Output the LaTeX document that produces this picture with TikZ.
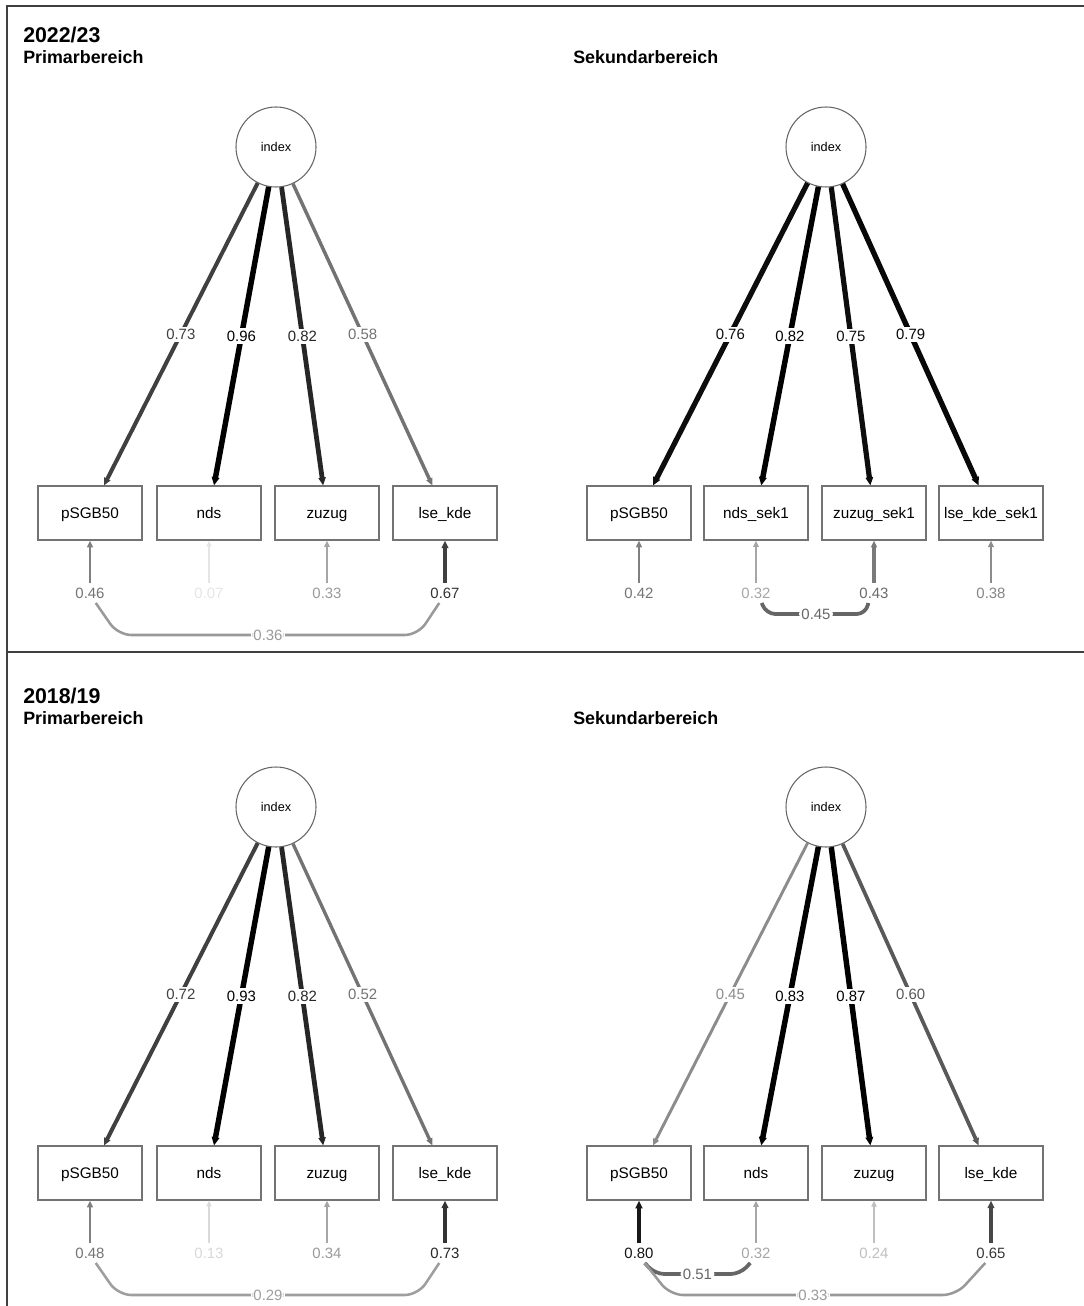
\documentclass[tikz,border=0pt]{standalone}
\usepackage{fontspec}
\setmainfont{Liberation Sans}
\usetikzlibrary{arrows.meta}

\tikzset{
  var/.style={draw=black!55, line width=0.8pt, minimum width=78pt, minimum height=40.5pt, text height=8.3pt, text depth=0pt, font=\fontsize{11.5}{13}\selectfont},
  lat/.style={circle, draw=black!60, line width=0.8pt, minimum size=60pt, font=\fontsize{9.5}{11}\selectfont},
  ed/.style 2 args={draw=black!#1, text=black!#1, line width=#2, -{Triangle[length=3.8pt 0.6, width=3.1pt 0.6]}},
  cv/.style 2 args={draw=black!#1, text=black!#1, line width=#2, rounded corners=10pt},
  lbl/.style={fill=white, inner sep=1.8pt, font=\fontsize{11.2}{12}\selectfont},
  res/.style={inner sep=3.3pt, font=\fontsize{11.2}{12}\selectfont},
  yr/.style={anchor=base west, inner sep=0pt, font=\bfseries\fontsize{16}{18}\selectfont},
  sub/.style={anchor=base west, inner sep=0pt, font=\bfseries\fontsize{13.4}{15}\selectfont},
}

\begin{document}
\begin{tikzpicture}[x=0.75pt, y=-0.75pt]

\useasboundingbox (0,0) rectangle (1084,1306);
\draw [black!75, line width=1.5pt] (1084,6) -- (7,6) -- (7,1306);
\draw [black!75, line width=1.5pt] (7,652) -- (1084,652);

\node [yr] (t1) at (23,43) {2022/23};
\node [sub] (s1) at (23,64) {Primarbereich};
\node [sub] (s2) at (573,64) {Sekundarbereich};
\node [yr] (t2) at (23,703) {2018/19};
\node [sub] (s3) at (23,724) {Primarbereich};
\node [sub] (s4) at (573,724) {Sekundarbereich};

% 2022/23 Primarbereich
\node [lat] (ai) at (276,147) {index};
\node [var] (ap1) at (90,513) {pSGB50};
\node [var] (ap2) at (209,513) {nds};
\node [var] (ap3) at (327,513) {zuzug};
\node [var] (ap4) at (445,513) {lse\_kde};
\draw [ed={75}{3pt}] (ai) -- node [lbl] {0.73} (ap1);
\draw [ed={100}{4.1pt}] (ai) -- node [lbl] {0.96} (ap2);
\draw [ed={85}{3.6pt}] (ai) -- node [lbl] {0.82} (ap3);
\draw [ed={55}{2.6pt}] (ai) -- node [lbl] {0.58} (ap4);
\node [res, text=black!55] (ae1) at (90,593) {0.46};
\node [res, text=black!10] (ae2) at (209,593) {0.07};
\node [res, text=black!40] (ae3) at (327,593) {0.33};
\node [res, text=black!80] (ae4) at (445,593) {0.67};
\draw [ed={50}{2.2pt}] (ae1) -- (ap1);
\draw [ed={10}{1.1pt}] (ae2) -- (ap2);
\draw [ed={35}{1.5pt}] (ae3) -- (ap3);
\draw [ed={75}{3pt}] (ae4) -- (ap4);
\draw [cv={40}{1.9pt}] (ae1.-60) -- (118,635) -- node [lbl] {0.36} (418,635) -- (ae4.-120);

% 2022/23 Sekundarbereich
\node [lat] (bi) at (826,147) {index};
\node [var] (bp1) at (639,513) {pSGB50};
\node [var] (bp2) at (756,513) {nds\_sek1};
\node [var] (bp3) at (874,513) {zuzug\_sek1};
\node [var] (bp4) at (991,513) {lse\_kde\_sek1};
\draw [ed={95}{3.9pt}] (bi) -- node [lbl] {0.76} (bp1);
\draw [ed={100}{4.1pt}] (bi) -- node [lbl] {0.82} (bp2);
\draw [ed={95}{3.9pt}] (bi) -- node [lbl] {0.75} (bp3);
\draw [ed={97}{4pt}] (bi) -- node [lbl] {0.79} (bp4);
\node [res, text=black!55] (be1) at (639,593) {0.42};
\node [res, text=black!35] (be2) at (756,593) {0.32};
\node [res, text=black!58] (be3) at (874,593) {0.43};
\node [res, text=black!48] (be4) at (991,593) {0.38};
\draw [ed={50}{2.2pt}] (be1) -- (bp1);
\draw [ed={35}{1.5pt}] (be2) -- (bp2);
\draw [ed={52}{2.3pt}] (be3) -- (bp3);
\draw [ed={45}{2pt}] (be4) -- (bp4);
\draw [cv={60}{2.8pt}, rounded corners=7pt] (be2.-60) -- (766,614) -- node [lbl] {0.45} (866,614) -- (be3.-120);

% 2018/19 Primarbereich
\node [lat] (ci) at (276,807) {index};
\node [var] (cp1) at (90,1173) {pSGB50};
\node [var] (cp2) at (209,1173) {nds};
\node [var] (cp3) at (327,1173) {zuzug};
\node [var] (cp4) at (445,1173) {lse\_kde};
\draw [ed={75}{3pt}] (ci) -- node [lbl] {0.72} (cp1);
\draw [ed={100}{4.1pt}] (ci) -- node [lbl] {0.93} (cp2);
\draw [ed={85}{3.6pt}] (ci) -- node [lbl] {0.82} (cp3);
\draw [ed={55}{2.5pt}] (ci) -- node [lbl] {0.52} (cp4);
\node [res, text=black!55] (ce1) at (90,1253) {0.48};
\node [res, text=black!15] (ce2) at (209,1253) {0.13};
\node [res, text=black!40] (ce3) at (327,1253) {0.34};
\node [res, text=black!85] (ce4) at (445,1253) {0.73};
\draw [ed={50}{2.2pt}] (ce1) -- (cp1);
\draw [ed={15}{1.1pt}] (ce2) -- (cp2);
\draw [ed={35}{1.5pt}] (ce3) -- (cp3);
\draw [ed={80}{3.2pt}] (ce4) -- (cp4);
\draw [cv={38}{1.9pt}] (ce1.-60) -- (118,1295) -- node [lbl] {0.29} (418,1295) -- (ce4.-120);

% 2018/19 Sekundarbereich
\node [lat] (di) at (826,807) {index};
\node [var] (dp1) at (639,1173) {pSGB50};
\node [var] (dp2) at (756,1173) {nds};
\node [var] (dp3) at (874,1173) {zuzug};
\node [var] (dp4) at (991,1173) {lse\_kde};
\draw [ed={45}{2.2pt}] (di) -- node [lbl] {0.45} (dp1);
\draw [ed={100}{4.1pt}] (di) -- node [lbl] {0.83} (dp2);
\draw [ed={100}{4.1pt}] (di) -- node [lbl] {0.87} (dp3);
\draw [ed={65}{2.8pt}] (di) -- node [lbl] {0.60} (dp4);
\node [res, text=black!92] (de1) at (639,1253) {0.80};
\node [res, text=black!35] (de2) at (756,1253) {0.32};
\node [res, text=black!25] (de3) at (874,1253) {0.24};
\node [res, text=black!78] (de4) at (991,1253) {0.65};
\draw [ed={90}{3.6pt}] (de1) -- (dp1);
\draw [ed={35}{1.5pt}] (de2) -- (dp2);
\draw [ed={25}{1.2pt}] (de3) -- (dp3);
\draw [ed={72}{3pt}] (de4) -- (dp4);
\draw [cv={60}{2.8pt}, rounded corners=7pt] (de1.-60) -- (655,1274) -- node [lbl] {0.51} (740,1274) -- (de2.-120);
\draw [cv={40}{1.9pt}] (de1.-60) -- (670,1295) -- node [lbl] {0.33} (956,1295) -- (de4.-120);

\end{tikzpicture}
\end{document}
